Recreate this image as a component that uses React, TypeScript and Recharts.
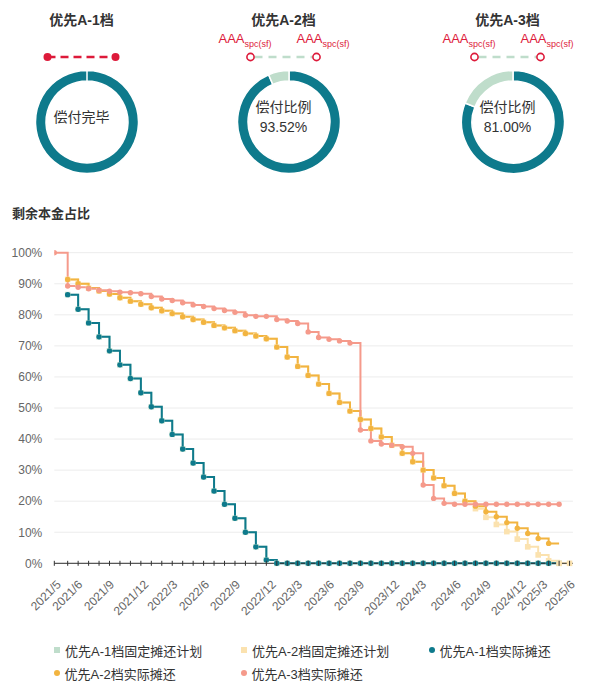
import React from 'react';
import { LineChart, Line, XAxis, YAxis, CartesianGrid, PieChart, Pie, Cell } from 'recharts';

// ---- data ----
const X_POS = [0, 1.28, 2.28, 3.28, 4.28, 5.28, 6.28, 7.28, 8.28, 9.28, 10.28, 11.28, 12.28, 13.28, 14.28, 15.28, 16.28, 17.28, 18.28, 19.28, 20.28, 21.28, 22.28, 23.28, 24.28, 25.28, 26.28, 27.28, 28.28, 29.28, 30.28, 31.28, 32.28, 33.28, 34.28, 35.28, 36.28, 37.28, 38.28, 39.28, 40.28, 41.28, 42.28, 43.28, 44.28, 45.28, 46.28, 47.28, 48.28, 49.28];

const A1_ACTUAL = [null, 86.5, 81.8, 77.4, 72.9, 68.4, 63.9, 59.5, 54.9, 50.4, 45.9, 41.5, 36.8, 32.3, 27.8, 23.3, 19.0, 14.5, 10.0, 5.3, 1.1, 0, 0, 0, 0, 0, 0, 0, 0, 0, 0, 0, 0, 0, 0, 0, 0, 0, 0, 0, 0, 0, 0, 0, 0, 0, 0, 0, 0, null];
const A1_PLAN = [null, 86.5, 81.8, 77.4, 72.9, 68.4, 63.9, 59.5, 54.9, 50.4, 45.9, 41.5, 36.8, 32.3, 27.8, 23.3, 19.0, 14.5, 10.0, 5.3, 1.1, 0, 0, 0, 0, 0, 0, 0, 0, 0, 0, 0, 0, 0, 0, 0, 0, 0, 0, 0, 0, 0, 0, 0, 0, 0, 0, 0, 0, null];
const A2_ACTUAL = [null, 91.4, 90.0, 88.6, 87.7, 86.7, 85.5, 84.4, 83.4, 82.3, 81.3, 80.4, 79.4, 78.5, 77.6, 76.6, 75.8, 74.9, 74.0, 73.2, 72.3, 69.6, 66.4, 63.4, 60.5, 57.7, 54.7, 51.8, 49.0, 46.3, 43.4, 40.7, 38.0, 35.4, 32.7, 30.0, 27.5, 25.0, 22.5, 20.0, 18.4, 16.6, 15.0, 13.1, 11.3, 9.6, 8.0, 6.4, 6.4, null];
const A2_PLAN = [null, 91.4, 90.0, 88.6, 87.7, 86.7, 85.5, 84.4, 83.4, 82.3, 81.3, 80.4, 79.4, 78.5, 77.6, 76.6, 75.8, 74.9, 74.0, 73.2, 72.3, 69.6, 66.4, 63.4, 60.5, 57.7, 54.7, 51.8, 49.0, 46.3, 43.4, 40.7, 38.0, 35.4, 32.7, 30.0, 27.5, 25.0, 22.5, 20.0, 17.6, 14.8, 12.5, 10.2, 7.8, 5.3, 2.7, 0.8, 0, 0];
const A3_ACTUAL = [100, 89.3, 88.9, 88.4, 87.9, 87.6, 87.3, 87.1, 86.8, 85.9, 85.1, 84.6, 83.9, 83.2, 82.7, 82.0, 81.4, 80.8, 79.9, 79.5, 79.5, 78.5, 78.0, 77.2, 74.5, 72.7, 72.1, 71.6, 70.9, 42.9, 39.4, 38.4, 38.0, 37.5, 35.4, 25.2, 20.9, 19.3, 19.0, 19.0, 19.0, 19.0, 19.0, 19.0, 19.0, 19.0, 19.0, 19.0, 19.0, null];

const TICK_LABELS = ['2021/5', '2021/6', '2021/9', '2021/12', '2022/3', '2022/6', '2022/9', '2022/12', '2023/3', '2023/6', '2023/9', '2023/12', '2024/3', '2024/6', '2024/9', '2024/12', '2025/3', '2025/6'];
const TICK_POS = [0.42, 2.48, 5.51, 8.80, 11.57, 14.60, 17.57, 20.98, 23.50, 26.56, 29.43, 32.77, 35.36, 38.68, 41.55, 44.89, 46.96, 49.58];
const Y_TICKS = [0, 10, 20, 30, 40, 50, 60, 70, 80, 90, 100];

const TRANCHES = ['优先A-1档', '优先A-2档', '优先A-3档'];
const PAID_PCT = [100, 93.52, 81.0];
const CENTER_TEXT = ['偿付完毕', '偿付比例', '偿付比例'];
const CENTER_VALUE = ['', '93.52%', '81.00%'];
const RATING = 'AAA';
const RATING_SUB = 'spc(sf)';

const SERIES_NAMES = ['优先A-1档固定摊还计划', '优先A-2档固定摊还计划', '优先A-1档实际摊还', '优先A-2档实际摊还', '优先A-3档实际摊还'];

// ---- styles ----
const C_TEAL = '#0E7A8C';
const C_ORANGE = '#F2B440';
const C_SALMON = '#F59A8B';
const C_LYELLOW = '#FBE2AF';
const C_LGREEN = '#BFDDCB';
const C_RED = '#DD1A3A';
const FONT = '"Liberation Sans", "Noto Sans CJK SC", sans-serif';

const rows = X_POS.map((x, i) => ({
  x,
  a1p: A1_PLAN[i],
  a2p: A2_PLAN[i],
  a1: A1_ACTUAL[i],
  a2: A2_ACTUAL[i],
  a3: A3_ACTUAL[i],
}));

const LAST_HIDDEN = X_POS.length - 2;

const circleDot = (color: string, hideIdx: number[] = []) => (props: any) => {
  const { cx, cy, index, value } = props;
  if (value == null || cx == null || cy == null || hideIdx.includes(index)) return <g key={`e${index}`} />;
  return <circle key={`c${index}`} cx={cx} cy={cy} r={2.7} fill={color} stroke="none" />;
};
const squareDot = (color: string) => (props: any) => {
  const { cx, cy, index, value } = props;
  if (value == null || cx == null || cy == null) return <g key={`e${index}`} />;
  return <rect key={`s${index}`} x={cx - 2.8} y={cy - 2.8} width={5.6} height={5.6} fill={color} stroke="none" />;
};

const XTick = (props: any) => {
  const { x, y, payload } = props;
  const li = TICK_POS.indexOf(payload.value);
  if (li >= 0) {
    const ay = y + 19;
    return (
      <text x={x} y={ay} dy="0.35em" textAnchor="end" transform={`rotate(-45, ${x}, ${ay})`} fontSize={12} fill="#666" fontFamily={FONT}>
        {TICK_LABELS[li]}
      </text>
    );
  }
  return <line x1={x} x2={x} y1={y - 2.5} y2={y + 2.5} stroke="#333" strokeWidth={1} />;
};

const DONUT_CX = [81.5, 283.5, 507.5];
const DONUT_CY = 117;

function Donut({ i }: { i: number }) {
  const paid = PAID_PCT[i];
  const data = paid >= 100 ? [{ v: 100 }] : [{ v: paid }, { v: 100 - paid }];
  const size = 112;
  return (
    <div style={{ position: 'absolute', left: DONUT_CX[i] - size / 2, top: DONUT_CY - size / 2, width: size, height: size }}>
      <PieChart width={size} height={size}>
        <Pie data={data} dataKey="v" cx={size / 2} cy={size / 2} innerRadius={41} outerRadius={51.5} startAngle={90} endAngle={-270} stroke="#fff" strokeWidth={1.5} isAnimationActive={false}>
          {data.map((_, k) => (
            <Cell key={k} fill={k === 0 ? C_TEAL : C_LGREEN} />
          ))}
        </Pie>
      </PieChart>
      <div style={{ position: 'absolute', left: 0, top: 0, width: size, height: size, display: 'flex', flexDirection: 'column', alignItems: 'center', justifyContent: 'center', fontFamily: FONT, fontSize: 14, color: '#333', lineHeight: '20px' }}>
        <div>{CENTER_TEXT[i]}</div>
        {CENTER_VALUE[i] ? <div>{CENTER_VALUE[i]}</div> : null}
      </div>
    </div>
  );
}

function Marker({ i }: { i: number }) {
  const cx = DONUT_CX[i];
  const y = 57;
  const half = 33;
  if (i === 0) {
    return (
      <svg style={{ position: 'absolute', left: 0, top: 0 }} width={597} height={90}>
        <line x1={cx - half - 1} x2={cx + half + 1} y1={y} y2={y} stroke={C_RED} strokeWidth={2.5} strokeDasharray="8 5" />
        <circle cx={cx - half - 1} cy={y} r={4} fill={C_RED} />
        <circle cx={cx + half + 1} cy={y} r={4} fill={C_RED} />
      </svg>
    );
  }
  return (
    <>
      <svg style={{ position: 'absolute', left: 0, top: 0 }} width={597} height={90}>
        <line x1={cx - half + 4} x2={cx + half - 4} y1={y} y2={y} stroke={C_LGREEN} strokeWidth={2.5} strokeDasharray="8 6" />
        <circle cx={cx - half} cy={y} r={3.6} fill="#fff" stroke={C_RED} strokeWidth={1.6} />
        <circle cx={cx + half} cy={y} r={3.6} fill="#fff" stroke={C_RED} strokeWidth={1.6} />
      </svg>
      {[cx - half - 32, cx + half - 20].map((lx, k) => (
        <div key={k} style={{ position: 'absolute', left: lx, top: 31, fontFamily: FONT, fontSize: 13, color: C_RED, whiteSpace: 'nowrap', lineHeight: '16px' }}>
          {RATING}
          <span style={{ fontSize: 9, position: 'relative', top: 4 }}>{RATING_SUB}</span>
        </div>
      ))}
    </>
  );
}

function LegendItem({ i, left, top }: { i: number; left: number; top: number }) {
  const colors = [C_LGREEN, C_LYELLOW, C_TEAL, C_ORANGE, C_SALMON];
  const square = i < 2;
  return (
    <div style={{ position: 'absolute', left, top, display: 'flex', alignItems: 'center', fontFamily: FONT, fontSize: 13, color: '#333', whiteSpace: 'nowrap', height: 16 }}>
      <span style={{ display: 'inline-block', width: square ? 6 : 5.5, height: square ? 6 : 5.5, borderRadius: square ? 0 : 3, background: colors[i], marginRight: 5 }} />
      {SERIES_NAMES[i]}
    </div>
  );
}

export default function App() {
  const allTicks = [...X_POS, ...TICK_POS];
  return (
    <div style={{ position: 'absolute', left: 0, top: 0, width: 597, height: 681, background: '#fff', overflow: 'hidden' }}>
      {TRANCHES.map((t, i) => (
        <div key={t} style={{ position: 'absolute', left: DONUT_CX[i] - 50, top: 10, width: 100, textAlign: 'center', fontFamily: FONT, fontSize: 14, fontWeight: 'bold', color: '#333', lineHeight: '20px' }}>
          {t}
        </div>
      ))}
      {TRANCHES.map((t, i) => (
        <Marker key={`m${i}`} i={i} />
      ))}
      {TRANCHES.map((t, i) => (
        <Donut key={`d${i}`} i={i} />
      ))}

      <div style={{ position: 'absolute', left: 12, top: 205, fontFamily: FONT, fontSize: 13, fontWeight: 'bold', color: '#333', lineHeight: '18px' }}>剩余本金占比</div>

      <div style={{ position: 'absolute', left: 0, top: 230 }}>
        <LineChart width={597} height={400} data={rows} margin={{ top: 22.7, right: 24.1, bottom: 16.7, left: 0 }}>
          <CartesianGrid horizontal vertical={false} stroke="#ececec" />
          <XAxis dataKey="x" type="number" domain={[0, 49.6]} ticks={allTicks} interval={0} tick={<XTick />} tickLine={false} tickSize={0} tickMargin={0} axisLine={{ stroke: '#333', strokeWidth: 1 }} height={50} allowDataOverflow />
          <YAxis type="number" domain={[0, 100]} ticks={Y_TICKS} tickFormatter={(v: number) => `${v}%`} width={54.3} axisLine={false} tickLine={false} tickMargin={6} tick={{ fontSize: 12, fill: '#666', fontFamily: FONT }} />
          <Line dataKey="a1p" type="stepAfter" stroke={C_LGREEN} strokeWidth={2} dot={squareDot(C_LGREEN)} isAnimationActive={false} connectNulls={false} />
          <Line dataKey="a2p" type="stepAfter" stroke={C_LYELLOW} strokeWidth={2} dot={squareDot(C_LYELLOW)} isAnimationActive={false} connectNulls={false} />
          <Line dataKey="a1" type="stepAfter" stroke={C_TEAL} strokeWidth={2} dot={circleDot(C_TEAL, [LAST_HIDDEN])} isAnimationActive={false} connectNulls={false} />
          <Line dataKey="a2" type="stepAfter" stroke={C_ORANGE} strokeWidth={2} dot={circleDot(C_ORANGE, [LAST_HIDDEN])} isAnimationActive={false} connectNulls={false} />
          <Line dataKey="a3" type="stepAfter" stroke={C_SALMON} strokeWidth={2} dot={circleDot(C_SALMON)} isAnimationActive={false} connectNulls={false} />
        </LineChart>
      </div>

      <LegendItem i={0} left={54} top={642} />
      <LegendItem i={1} left={241} top={642} />
      <LegendItem i={2} left={429} top={642} />
      <LegendItem i={3} left={54} top={665} />
      <LegendItem i={4} left={241} top={665} />
    </div>
  );
}
